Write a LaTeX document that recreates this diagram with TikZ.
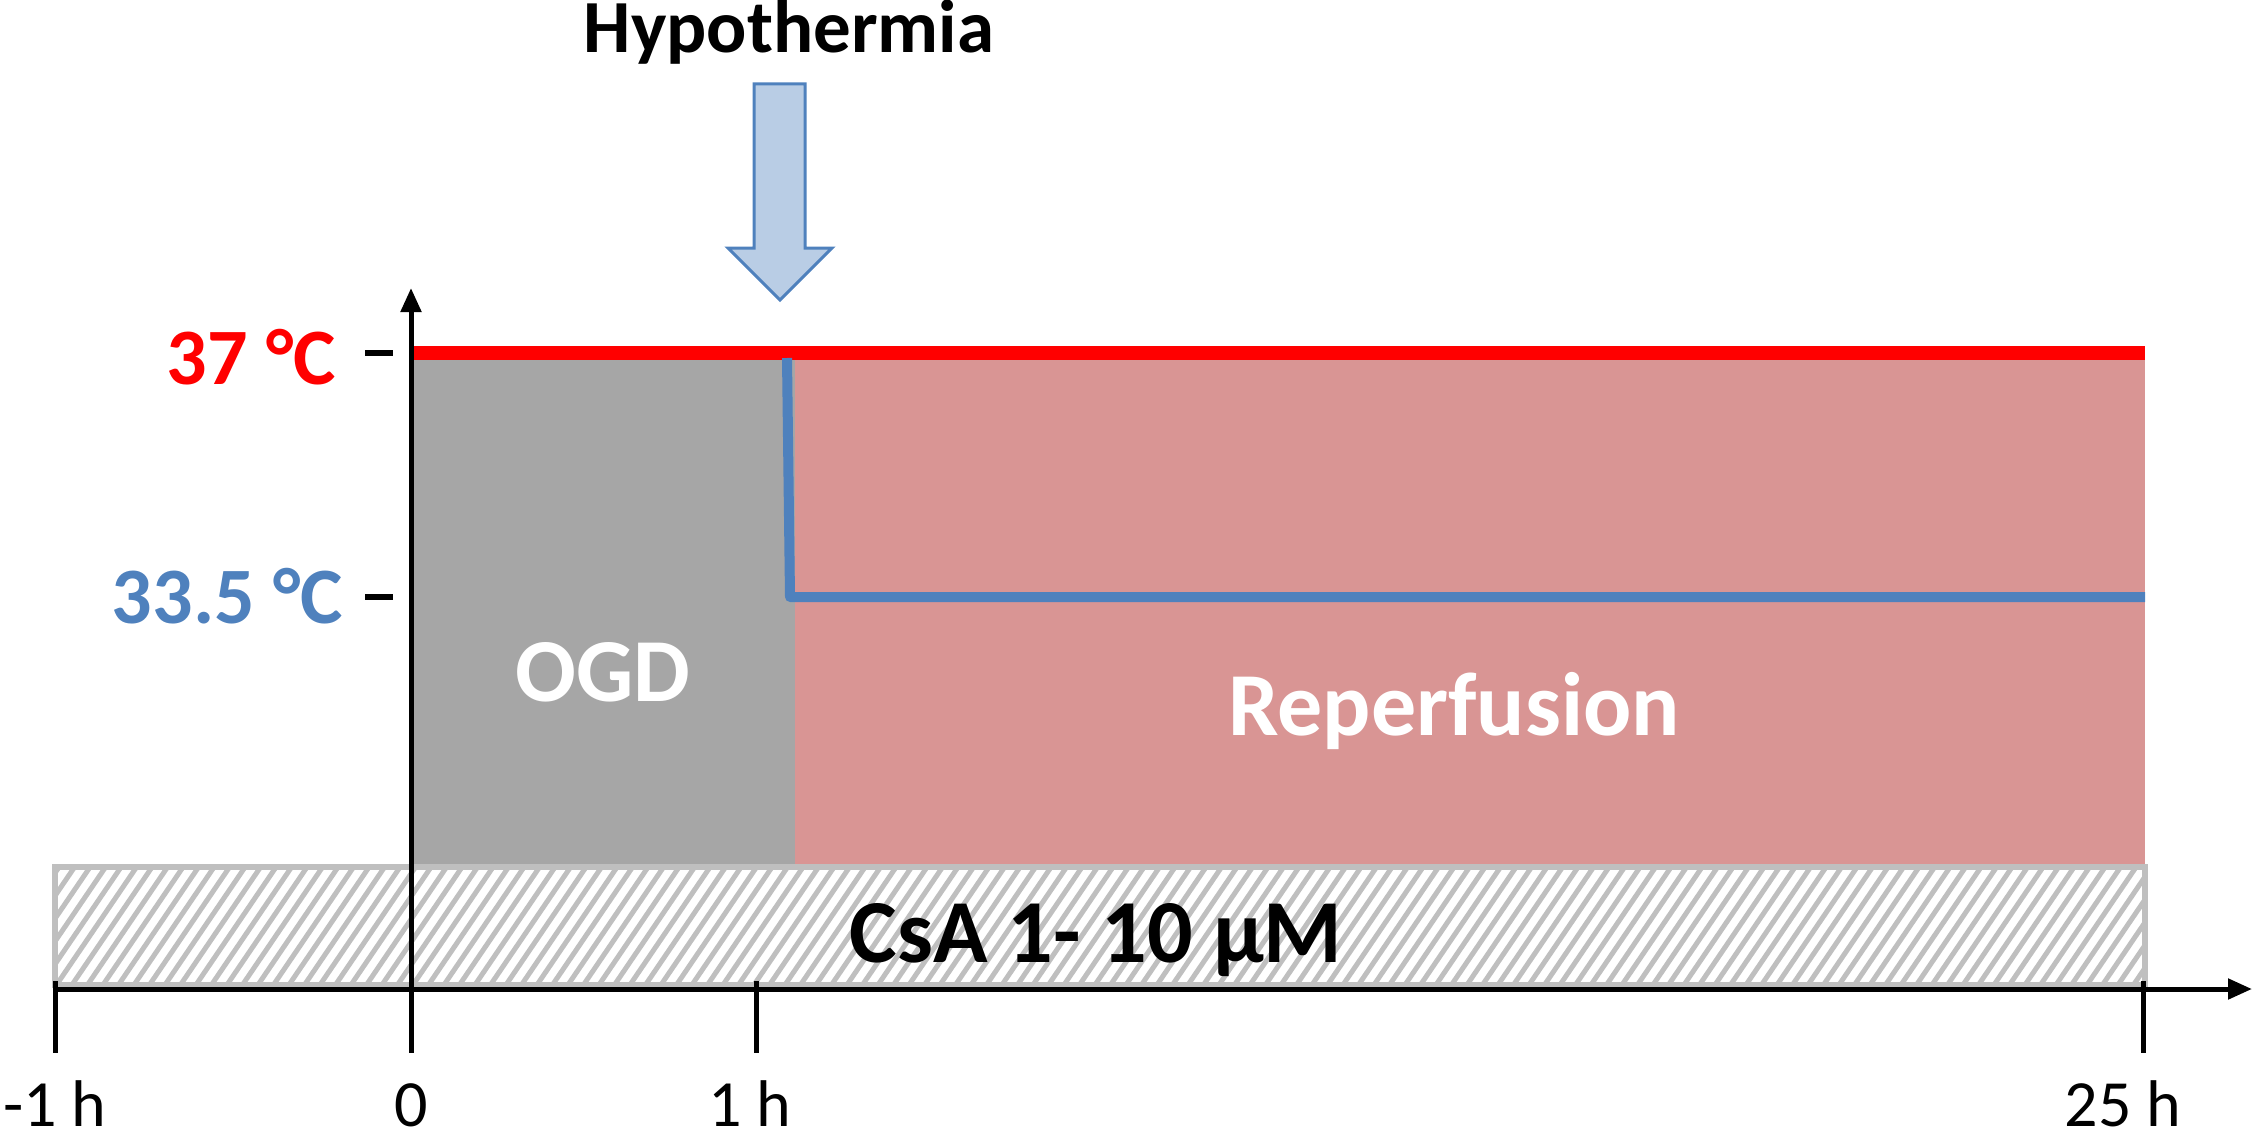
\documentclass[tikz,border=0pt]{standalone}
\usepackage{fontspec}
\setmainfont{Carlito}
\usetikzlibrary{arrows.meta}
\definecolor{tred}{HTML}{FF0000}
\definecolor{tblue}{HTML}{4F81BD}
\definecolor{ogdgray}{HTML}{A6A6A6}
\definecolor{reppink}{HTML}{D99594}
\definecolor{hatchgray}{HTML}{BFBFBF}
\definecolor{arrowfill}{HTML}{B9CDE5}
\tikzset{
  axisline/.style={line width=5pt, black},
  ticklabel/.style={anchor=base, inner sep=0pt, font=\fontsize{66}{70}\selectfont},
  boldlabel/.style={anchor=base, inner sep=0pt, font=\bfseries\fontsize{90}{96}\selectfont},
}
\begin{document}
\begin{tikzpicture}[x=1pt,y=-1pt]
\useasboundingbox (0,0) rectangle (2261,1134);
% phases
\fill[ogdgray] (411,353) rectangle (795,867);
\fill[reppink] (795,353) rectangle (2145,867);
% hatched drug bar
\begin{scope}
  \clip (55,867) rectangle (2145,985);
  \foreach \i in {0,...,140} \draw[hatchgray,line width=5pt] ({-40+\i*15.5},990) -- ({47+\i*15.5},862);
\end{scope}
\draw[hatchgray,line width=6pt] (55,867) rectangle (2145,985);
% coordinates
\coordinate (yb) at (411,989);
\coordinate (yt) at (411,288);
\coordinate (xl) at (55,989);
\coordinate (xr) at (2252,989);
% temperature lines
\draw[tred,line width=14pt] (411,353) -- (2145,353);
\draw[tblue,line width=10pt,line join=round] (787,358) -- (790,597) -- (2145,597);
% axes
\draw[axisline,-{Triangle[length=24pt,width=20pt]}] (yb) -- (yt);
\draw[axisline,-{Triangle[length=24pt,width=20pt]}] (xl) -- (xr);
% x ticks
\foreach \x in {55,411,756,2143} \draw[axisline] (\x,981) -- (\x,1053);
% y ticks
\draw[axisline,line width=6pt] (365,353) -- (393,353);
\draw[axisline,line width=6pt] (365,597) -- (393,597);
% hypothermia arrow
\draw[fill=arrowfill, draw=tblue, line width=3pt, line join=miter]
  (754,84) -- (805,84) -- (805,248) -- (832,248) -- (780,300) -- (728,248) -- (754,248) -- cycle;
% texts
\node[anchor=base, inner sep=0pt, font=\bfseries\fontsize{75}{80}\selectfont] (hypo) at (789,53) {Hypothermia};
\node[anchor=base east, inner sep=0pt, text=tred, font=\bfseries\fontsize{80}{86}\selectfont] (t37) at (336,384) {37 °C};
\node[anchor=base east, inner sep=0pt, text=tblue, font=\bfseries\fontsize{80}{86}\selectfont] (t335) at (343,623) {33.5 °C};
\node[boldlabel, text=white] (ogd) at (603,701) {OGD};
\node[boldlabel, text=white] (rep) at (1454,735) {Reperfusion};
\node[boldlabel, text=black] (csa) at (1096,962) {CsA 1- 10 µM};
\node[ticklabel] (lm1) at (55,1126) {-1 h};
\node[ticklabel] (l0) at (411,1126) {0};
\node[ticklabel] (l1) at (750,1126) {1 h};
\node[ticklabel] (l25) at (2123,1126) {25 h};
\end{tikzpicture}
\end{document}
